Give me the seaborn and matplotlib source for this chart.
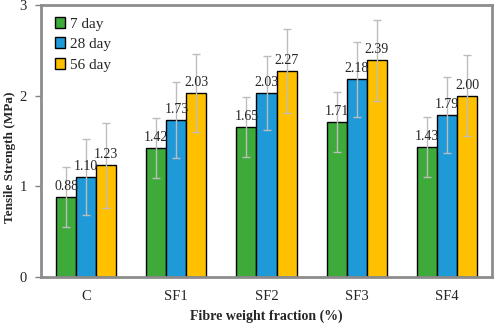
import numpy as np
import pandas as pd
import matplotlib
matplotlib.use("Agg")
import matplotlib.pyplot as plt
import seaborn as sns

categories = ["C", "SF1", "SF2", "SF3", "SF4"]
series = ["7 day", "28 day", "56 day"]
day7 = [0.88, 1.42, 1.65, 1.71, 1.43]
day28 = [1.10, 1.73, 2.03, 2.18, 1.79]
day56 = [1.23, 2.03, 2.27, 2.39, 2.00]
err7 = [0.33, 0.33, 0.33, 0.33, 0.33]
err28 = [0.42, 0.42, 0.41, 0.41, 0.42]
err56 = [0.47, 0.43, 0.46, 0.45, 0.45]
colors = ["#3DAA3A", "#1F9AD8", "#FFC000"]

sns.set_style("white")
plt.rcParams["font.family"] = ["Liberation Serif", "DejaVu Serif"]

vals = [day7, day28, day56]
errs = [err7, err28, err56]
rows = []
for s, v in zip(series, vals):
    for c, x in zip(categories, v):
        rows.append({"cat": c, "series": s, "val": x})
df = pd.DataFrame(rows)

fig = plt.figure(figsize=(4.98, 3.23), dpi=100)
ax = fig.add_axes([41/498, 1-277/323, 451/498, 272/323])

sns.barplot(data=df, x="cat", y="val", hue="series", order=categories,
            hue_order=series, palette=colors, errorbar=None, width=0.667,
            edgecolor="black", linewidth=1.0, ax=ax, saturation=1)

bar_conts = list(ax.containers)
for i, cont in enumerate(bar_conts):
    xs = [p.get_x() + p.get_width()/2 for p in cont.patches]
    ax.errorbar(xs, vals[i], yerr=errs[i], fmt="none", ecolor="#BDBDBD",
                elinewidth=1.0, capsize=3, capthick=1.0, zorder=3)
    ax.bar_label(cont, labels=[f"{v:.2f}" for v in vals[i]], padding=3,
                 fontsize=10, zorder=4)

ax.set_ylim(0, 3)
ax.set_yticks([0, 1, 2, 3])
ax.set_xlim(-0.5, 4.5)
ax.tick_params(axis="y", length=4, width=1, color="#808080", labelsize=10.5, direction="out", left=True, pad=6)
ax.tick_params(axis="x", length=0, labelsize=10.5, pad=9)
for sp in ax.spines.values():
    sp.set_color("#8C8C8C")
    sp.set_linewidth(2)
ax.set_xlabel("Fibre weight fraction (%)", fontweight="bold", fontsize=10, labelpad=5)
ax.set_ylabel("Tensile Strength (MPa)", fontweight="bold", fontsize=9.5)
ax.yaxis.set_label_coords(-0.055, 0.44)

leg = ax.legend(loc="upper left", frameon=False, fontsize=11, handlelength=0.7,
                handleheight=0.7, handletextpad=0.3, labelspacing=0.45,
                bbox_to_anchor=(0.01, 0.99), borderaxespad=0.2)

fig.savefig("out.png", dpi=100)
